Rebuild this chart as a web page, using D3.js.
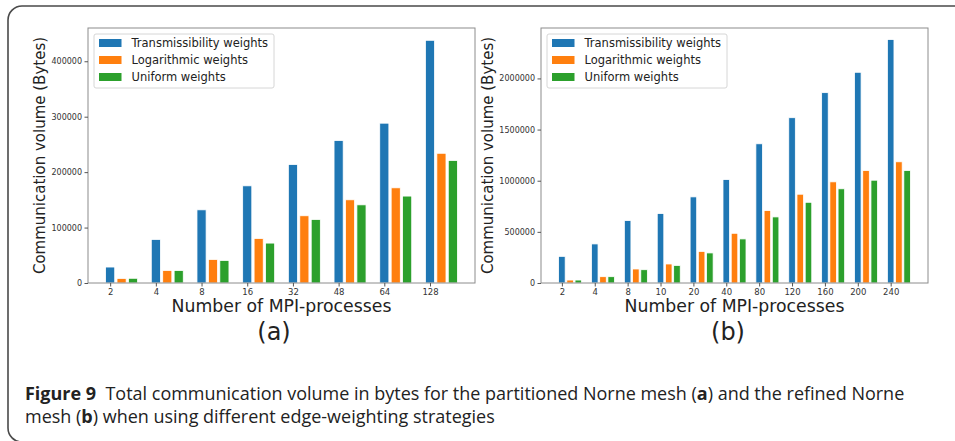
<!DOCTYPE html>
<html>
<head>
<meta charset="utf-8">
<script src="https://cdn.jsdelivr.net/npm/d3@7"></script>
<style>
  body { margin: 0; background: #fff; }
  svg { display: block; }
  .tick text { font-family: "DejaVu Sans", sans-serif; fill: #333; }
</style>
</head>
<body>
<div id="chart"></div>
<script>
// series names + colours (matplotlib tab10)
const seriesNames = ["Transmissibility weights", "Logarithmic weights", "Uniform weights"];
const seriesColors = ["#1f77b4", "#ff7f0e", "#2ca02c"];

// (a) partitioned Norne mesh
const procsA = ["2", "4", "8", "16", "32", "48", "64", "128"];
const transA = [28800, 78600, 132000, 175300, 213700, 257000, 288300, 437800];
const logA = [8300, 22700, 42500, 80400, 121300, 150100, 171700, 234000];
const unifA = [8500, 22500, 40700, 72000, 114600, 141000, 156800, 221000];
const yTicksA = [0, 100000, 200000, 300000, 400000];

// (b) refined Norne mesh
const procsB = ["2", "4", "8", "10", "20", "40", "80", "120", "160", "200", "240"];
const transB = [260500, 382000, 610000, 678700, 842000, 1011000, 1361000, 1616000, 1861000, 2060000, 2380000];
const logB = [29000, 61700, 137000, 186000, 309000, 486000, 708000, 868000, 989000, 1100000, 1185000];
const unifB = [29000, 61700, 130000, 172000, 294000, 431000, 646000, 789000, 921000, 1005000, 1100000];
const yTicksB = [0, 500000, 1000000, 1500000, 2000000];

const captionBold = "Figure 9";
const captionLine1 = "Total communication volume in bytes for the partitioned Norne mesh (";
const captionLine1b = ") and the refined Norne";
const captionLine2a = "mesh (";
const captionLine2b = ") when using different edge-weighting strategies";

const W = 955, H = 441;
const svg = d3.select("#chart").append("svg").attr("width", W).attr("height", H);
svg.append("rect").attr("width", W).attr("height", H).attr("fill", "#fff");

// panel frame (rounded, cut off on right / bottom)
svg.append("path")
  .attr("d", "M956,6 H22 A14,14 0 0 0 8,20 V428 A14,14 0 0 0 22,442")
  .attr("fill", "none").attr("stroke", "#4a4a4a").attr("stroke-width", 1.6);

const barW = 0.2, barStep = 0.25;

function drawPanel(opts) {
  const {left, right, top, bottom, procs, series, yMax, yTicks, xDomain, tag, tagX, yLabelX} = opts;
  const g = svg.append("g");

  const x = d3.scaleLinear().domain(xDomain).range([left, right]);
  const y = d3.scaleLinear().domain([0, yMax]).range([bottom, top]);

  // bars
  series.forEach((vals, si) => {
    g.append("g").selectAll("rect")
      .data(vals)
      .join("rect")
        .attr("x", (d, i) => x(i + si * barStep - barW / 2))
        .attr("y", d => y(d))
        .attr("width", x(barW) - x(0))
        .attr("height", d => y(0) - y(d))
        .attr("fill", seriesColors[si])
        .attr("stroke", "#fff")
        .attr("stroke-width", 0.8);
  });

  // frame
  g.append("rect")
    .attr("x", left).attr("y", top)
    .attr("width", right - left).attr("height", bottom - top)
    .attr("fill", "none").attr("stroke", "#8c8c8c").attr("stroke-width", 1);

  // axes
  const xAxis = g.append("g")
    .attr("transform", `translate(0,${bottom})`)
    .call(d3.axisBottom(x).tickValues(procs.map((p, i) => i))
      .tickFormat(i => procs[i]).tickSize(3.5).tickPadding(2.5));
  xAxis.select(".domain").remove();
  xAxis.selectAll("line").attr("stroke", "#555");
  xAxis.selectAll("text").attr("font-size", 8.5);

  const yAxis = g.append("g")
    .attr("transform", `translate(${left},0)`)
    .call(d3.axisLeft(y).tickValues(yTicks).tickFormat(d3.format("d"))
      .tickSize(3.5).tickPadding(2.5));
  yAxis.select(".domain").remove();
  yAxis.selectAll("line").attr("stroke", "#555");
  yAxis.selectAll("text").attr("font-size", 8);

  // labels
  const cx = (left + right) / 2;
  g.append("text")
    .attr("x", cx).attr("y", 312)
    .attr("text-anchor", "middle")
    .attr("font-family", "DejaVu Sans, sans-serif")
    .attr("font-size", 17.3).attr("fill", "#222")
    .text("Number of MPI-processes");
  g.append("text")
    .attr("transform", `translate(${yLabelX},${(top + bottom) / 2}) rotate(-90)`)
    .attr("text-anchor", "middle")
    .attr("dy", "0.35em")
    .attr("font-family", "DejaVu Sans, sans-serif")
    .attr("font-size", 15).attr("fill", "#222")
    .text("Communication volume (Bytes)");
  g.append("text")
    .attr("x", tagX).attr("y", 340)
    .attr("text-anchor", "middle")
    .attr("font-family", "DejaVu Sans, sans-serif")
    .attr("font-size", 24).attr("fill", "#222")
    .text(tag);

  // legend
  const lg = g.append("g").attr("transform", `translate(${left + 6},${top + 6})`);
  lg.append("rect")
    .attr("width", 180).attr("height", 54).attr("rx", 2)
    .attr("fill", "#fff").attr("fill-opacity", 0.85)
    .attr("stroke", "#d6d6d6").attr("stroke-width", 1);
  seriesNames.forEach((name, i) => {
    const row = lg.append("g").attr("transform", `translate(5,${9 + i * 17})`);
    row.append("rect")
      .attr("x", 0).attr("y", -4).attr("width", 22.5).attr("height", 8)
      .attr("fill", seriesColors[i]);
    row.append("text")
      .attr("x", 32.5).attr("dy", "0.36em")
      .attr("font-family", "DejaVu Sans, sans-serif")
      .attr("font-size", 11.5).attr("fill", "#222")
      .text(name);
  });
}

drawPanel({
  left: 88, right: 475, top: 28, bottom: 283,
  procs: procsA, series: [transA, logA, unifA],
  yMax: 460000, yTicks: yTicksA, xDomain: [-0.485, 7.985],
  tag: "(a)", tagX: 274, yLabelX: 40
});

drawPanel({
  left: 541, right: 928, top: 28, bottom: 283,
  procs: procsB, series: [transB, logB, unifB],
  yMax: 2493000, yTicks: yTicksB, xDomain: [-0.635, 11.135],
  tag: "(b)", tagX: 728, yLabelX: 488
});

// caption
const capFont = "'Open Sans', 'Noto Sans', sans-serif";
const cap1 = svg.append("text")
  .attr("x", 25).attr("y", 400)
  .attr("font-family", capFont).attr("font-size", 17).attr("fill", "#222");
cap1.append("tspan").attr("font-weight", "bold").text(captionBold);
cap1.append("tspan").text("\u00a0\u00a0" + captionLine1);
cap1.append("tspan").attr("font-weight", "bold").text("a");
cap1.append("tspan").text(captionLine1b);

const cap2 = svg.append("text")
  .attr("x", 25).attr("y", 423)
  .attr("font-family", capFont).attr("font-size", 17).attr("fill", "#222");
cap2.append("tspan").text(captionLine2a);
cap2.append("tspan").attr("font-weight", "bold").text("b");
cap2.append("tspan").text(captionLine2b);

// fit caption width to the reference line length
const len1 = cap1.node().getComputedTextLength();
const fs = 17 * 880 / len1;
cap1.attr("font-size", fs);
cap2.attr("font-size", fs);
</script>
</body>
</html>
